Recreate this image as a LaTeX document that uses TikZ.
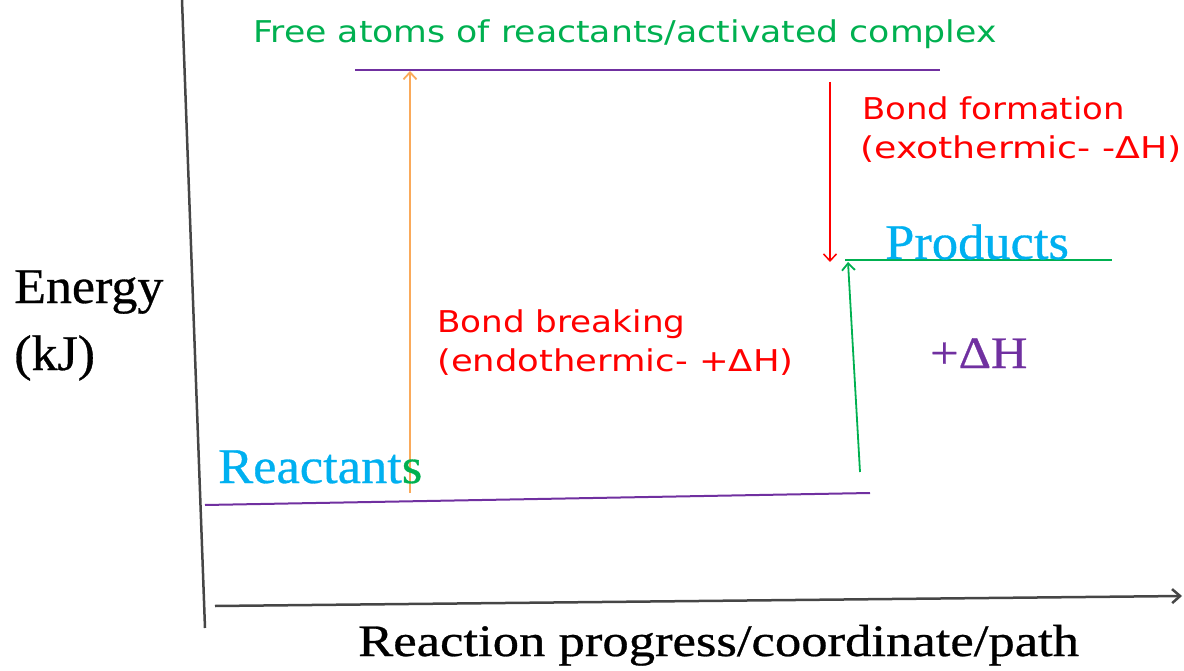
\documentclass[tikz,border=0pt]{standalone}
\usepackage{fontspec}
\setmainfont{Liberation Serif}
\newfontfamily\serifb[FakeBold=0.6]{Liberation Serif}
\newfontfamily\sansf{DejaVu Sans}
\usetikzlibrary{arrows.meta}
\definecolor{lvl}{RGB}{112,48,160}
\definecolor{grn}{RGB}{0,176,80}
\definecolor{cyn}{RGB}{0,176,240}
\definecolor{org}{RGB}{250,170,90}
\definecolor{rd}{RGB}{255,0,0}
\definecolor{ax}{RGB}{70,70,70}
\begin{document}
\begin{tikzpicture}[x=1pt,y=-1pt,
  tip/.style={-{Straight Barb[length=7pt,width=13pt]}},
  sanslbl/.style={font=\sansf\fontsize{30}{38}\selectfont, inner sep=0pt, anchor=base west},
  seriflbl/.style={font=\serifb\fontsize{50}{60}\selectfont, inner sep=0pt, anchor=base west},
  level/.style={line width=2pt},
  axis/.style={draw=ax, line width=2.5pt}]
\useasboundingbox (0,0) rectangle (1184,671);

% axes
\coordinate (yt) at (182,0);
\coordinate (yb) at (205,628);
\coordinate (xl) at (215,606);
\coordinate (xr) at (1182,596);
\draw[axis] (yt) -- (yb);
\draw[axis, -{Straight Barb[length=8pt,width=14pt]}] (xl) -- (xr);

% levels
\coordinate (tl) at (355,70);
\coordinate (tr) at (940,70);
\draw[lvl, level] (tl) -- (tr);
\coordinate (rl) at (205,505);
\coordinate (rr) at (870,493);
\draw[lvl, level] (rl) -- (rr);
\coordinate (pl) at (845,260);
\coordinate (pr) at (1112,260);
\draw[grn, level] (pl) -- (pr);

% arrows
\coordinate (oa) at (410,493);
\coordinate (ob) at (410,71);
\draw[org, line width=1.8pt, tip] (oa) -- (ob);
\coordinate (ra) at (830,82);
\coordinate (rb) at (830,262);
\draw[rd, line width=1.5pt, tip] (ra) -- (rb);
\coordinate (ga) at (860,472);
\coordinate (gb) at (848,262);
\draw[grn, line width=1.8pt, tip] (ga) -- (gb);

% labels
\node[sanslbl, text=grn] (free) at (253,43) {\scalebox{1.156}[1]{Free atoms of reactants/activated complex}};
\node[sanslbl, text=rd] (bf1) at (862,120) {\scalebox{1.13}[1]{Bond formation}};
\node[sanslbl, text=rd] (bf2) at (860,159) {\scalebox{1.21}[1]{(exothermic- -ΔH)}};
\node[sanslbl, text=rd] (bb1) at (437,332) {\scalebox{1.14}[1]{Bond breaking}};
\node[sanslbl, text=rd] (bb2) at (437,371) {\scalebox{1.18}[1]{(endothermic- +ΔH)}};
\node[seriflbl, text=cyn] (prod) at (885,259) {\scalebox{1.05}[1]{Products}};
\node[seriflbl, text=cyn] (reac) at (218,483) {\scalebox{1.05}[1]{Reactant\textcolor{grn}{s}}};
\node[seriflbl, text=lvl, font=\serifb\fontsize{45}{54}\selectfont] (dh) at (930,368) {\scalebox{1.12}[1]{+ΔH}};
\node[seriflbl] (en) at (14,303) {\scalebox{1.04}[1]{Energy}};
\node[seriflbl] (kj) at (14,370) {\scalebox{1.04}[1]{(kJ)}};
\node[seriflbl, font=\serifb\fontsize{45}{54}\selectfont] (xlab) at (358,656) {\scalebox{1.17}[1]{Reaction progress/coordinate/path}};
\end{tikzpicture}
\end{document}
